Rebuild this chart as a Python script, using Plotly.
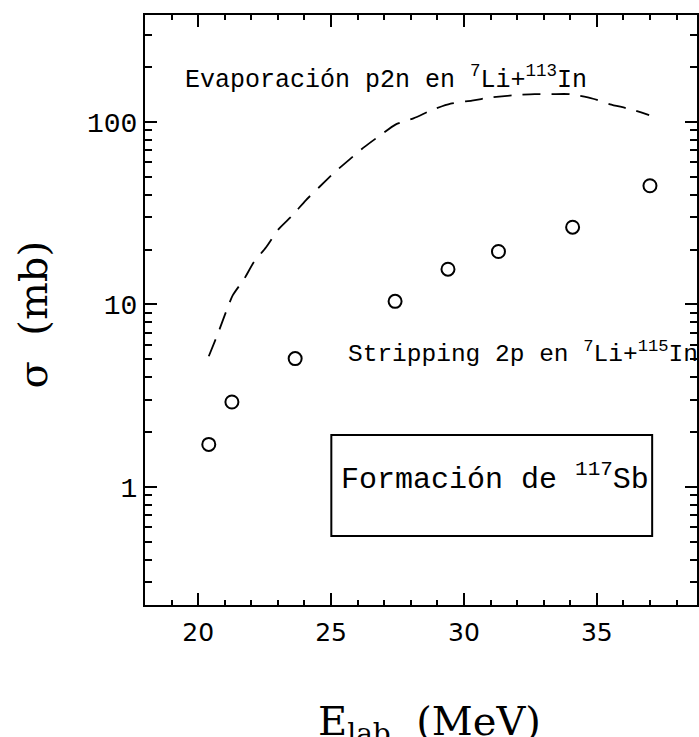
import plotly.graph_objects as go

# Measured 2p-stripping cross sections (open circles)
e_lab_exp = [20.40, 21.27, 23.65, 27.41, 29.40, 31.30, 34.09, 37.00]
sigma_exp = [1.71, 2.92, 5.05, 10.4, 15.6, 19.5, 26.5, 44.7]

# Evaporation p2n calculation (dashed curve)
e_lab_calc = [20.40, 20.74, 21.30, 21.72, 22.10, 22.55, 23.02, 23.55, 24.05, 24.56,
              25.13, 25.70, 26.26, 26.90, 27.44, 28.10, 28.84, 29.50, 30.30, 30.99,
              31.86, 32.66, 33.30, 33.98, 34.86, 35.50, 36.25, 36.97]
sigma_calc = [5.2, 6.9, 11.2, 13.7, 17.1, 20.5, 25.8, 30.8, 37.2, 44.0,
              52.9, 62.4, 73.0, 85.5, 97.0, 104.6, 117.0, 126.0, 131.0, 136.0,
              140.0, 142.0, 142.0, 142.0, 134.0, 125.0, 117.6, 109.0]

x_ticks = [20, 25, 30, 35]
y_ticks = [1, 10, 100]
y_tick_text = ["1", "10", "100"]

W, H = 699, 737
L, R, T, B = 145, 0, 15, 132
pw, ph = W - L - R, H - T - B


def px(x):
    return (x - L) / pw


def py(y):
    return (H - B - y) / ph


SERIF = "DejaVu Serif"
MONO = "Liberation Mono"
SANS = "DejaVu Sans"

fig = go.Figure()

fig.add_trace(go.Scatter(
    x=e_lab_calc, y=sigma_calc, mode="lines",
    line=dict(color="black", width=1.8, dash="18px,11px", shape="spline", smoothing=0.6),
    showlegend=False, hoverinfo="skip",
))

fig.add_trace(go.Scatter(
    x=e_lab_exp, y=sigma_exp, mode="markers",
    marker=dict(symbol="circle-open", size=13, color="black", line=dict(width=2, color="black")),
    showlegend=False,
))

# Frame box around the label
fig.add_shape(type="rect", xref="paper", yref="paper",
              x0=px(332), x1=px(654), y0=py(536), y1=py(435),
              line=dict(color="black", width=2), fillcolor="rgba(0,0,0,0)")

annotations = [
    dict(text="Evaporación p2n en <sup>7</sup>Li+<sup>113</sup>In",
         x=px(183), y=py(78), xanchor="left", yanchor="middle",
         font=dict(family=MONO, size=25, color="black")),
    dict(text="Stripping 2p en <sup>7</sup>Li+<sup>115</sup>In",
         x=px(347), y=py(352), xanchor="left", yanchor="middle",
         font=dict(family=MONO, size=24.5, color="black")),
    dict(text="Formación de <sup>117</sup>Sb",
         x=px(340), y=py(477), xanchor="left", yanchor="middle",
         font=dict(family=MONO, size=30, color="black")),
    dict(text="σ  (mb)", textangle=-90,
         x=px(33), y=py(315), xanchor="center", yanchor="middle",
         font=dict(family=SERIF, size=40, color="black")),
    dict(text="E<sub>lab</sub>  (MeV)",
         x=px(431), y=py(724), xanchor="center", yanchor="middle",
         font=dict(family=SERIF, size=40, color="black")),
]
for a in annotations:
    a.update(xref="paper", yref="paper", showarrow=False)

fig.update_layout(
    width=W, height=H,
    margin=dict(l=L, r=R, t=T, b=B, pad=0),
    paper_bgcolor="white", plot_bgcolor="white",
    annotations=annotations,
    xaxis=dict(
        range=[18, 38.77], tickvals=x_ticks, ticktext=[str(v) for v in x_ticks],
        ticks="inside", ticklen=12, tickwidth=2, tickcolor="black",
        showline=True, linewidth=2, linecolor="black", mirror="allticks",
        showgrid=False, zeroline=False, ticklabelstandoff=4,
        tickfont=dict(family=SANS, size=25, color="black"),
        minor=dict(dtick=1, ticks="inside", ticklen=5, tickwidth=2, tickcolor="black", showgrid=False),
    ),
    yaxis=dict(
        type="log", range=[-0.647, 2.586],
        tickvals=y_ticks, ticktext=y_tick_text,
        ticks="inside", ticklen=12, tickwidth=2, tickcolor="black",
        showline=True, linewidth=2, linecolor="black", mirror="allticks",
        showgrid=False, zeroline=False,
        tickfont=dict(family=MONO, size=28, color="black"),
        minor=dict(dtick="D1", ticks="inside", ticklen=7, tickwidth=2, tickcolor="black", showgrid=False),
    ),
)

fig.write_html("out.html")
